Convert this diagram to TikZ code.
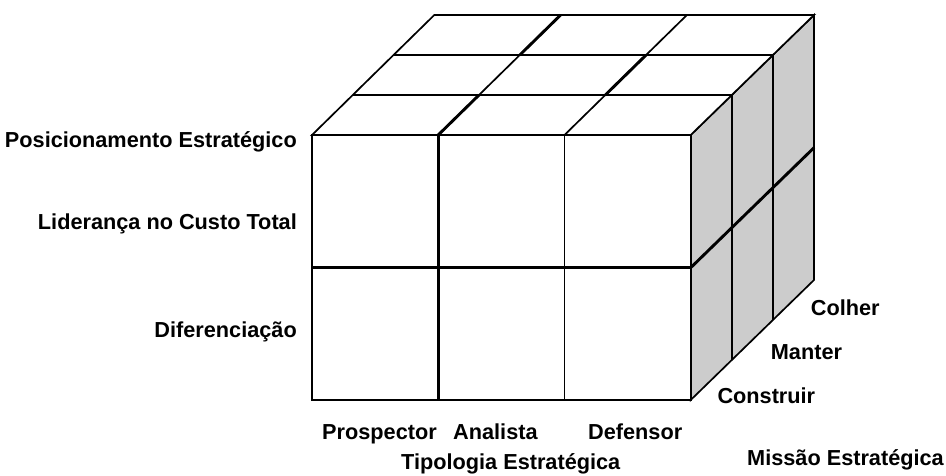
\documentclass[tikz,border=0pt]{standalone}
\usepackage{fontspec}
\setmainfont{Liberation Sans}
\begin{document}
\begin{tikzpicture}[x=1pt,y=-1pt,
  edge/.style={line width=1.7pt,line join=miter},
  heavy/.style={line width=2.9pt},
  lbl/.style={inner sep=0pt,font=\bfseries\fontsize{21.7}{26}\selectfont}]
\useasboundingbox (0,0) rectangle (946,475);
% corner points of the block
\coordinate (A)  at (312,135);
\coordinate (B)  at (690.7,135);
\coordinate (C)  at (690.7,400);
\coordinate (D)  at (312,400);
\coordinate (Ab) at (434.3,15);
\coordinate (Bb) at (814,15);
\coordinate (Cb) at (814,280);
% right face
\filldraw[edge,fill=black!20] (B) -- (Bb) -- (Cb) -- (C) -- cycle;
\foreach \k in {1,2}{
  \draw[edge] (690.7+41.1*\k,135-40*\k) -- (690.7+41.1*\k,400-40*\k);
}
\draw[heavy] (690.7,267.7) -- (814,147.7);
% top face
\filldraw[edge,fill=white] (A) -- (Ab) -- (Bb) -- (B) -- cycle;
\foreach \k in {1,2}{
  \draw[edge] (312+40.8*\k,135-40*\k) -- (690.7+41.1*\k,135-40*\k);
}
\draw[edge] (438.2,135) -- (560.6,15);
\draw[heavy] (438.2,135) -- (479,95);
\draw[heavy] (519.8,55) -- (560.6,15);
\draw[edge] (564.5,135) -- (686.9,15);
\draw[heavy] (605.3,95) -- (646.1,55);
% front face
\filldraw[edge,fill=white] (A) -- (B) -- (C) -- (D) -- cycle;
\draw[heavy] (438.2,135) -- (438.2,400);
\draw[edge] (564.5,135) -- (564.5,400);
\draw[heavy] (312,267.7) -- (690.7,267.7);
% row labels
\node[lbl,anchor=base east] (pos) at (297,147) {Posicionamento Estratégico};
\node[lbl,anchor=base east] (lid) at (297,229) {Liderança no Custo Total};
\node[lbl,anchor=base east] (dif) at (297,337) {Diferenciação};
% column labels
\node[lbl,anchor=base west] (pro) at (322,439) {Prospector};
\node[lbl,anchor=base west] (ana) at (453,439) {Analista};
\node[lbl,anchor=base west] (def) at (588,439) {Defensor};
\node[lbl,anchor=base west] (tip) at (401,469) {Tipologia Estratégica};
% depth labels
\node[lbl,anchor=base west] (col) at (810.7,315) {Colher};
\node[lbl,anchor=base west] (man) at (770.7,359) {Manter};
\node[lbl,anchor=base west] (con) at (717.3,403) {Construir};
\node[lbl,anchor=base east] (mis) at (944,465) {Missão Estratégica};
\end{tikzpicture}
\end{document}
